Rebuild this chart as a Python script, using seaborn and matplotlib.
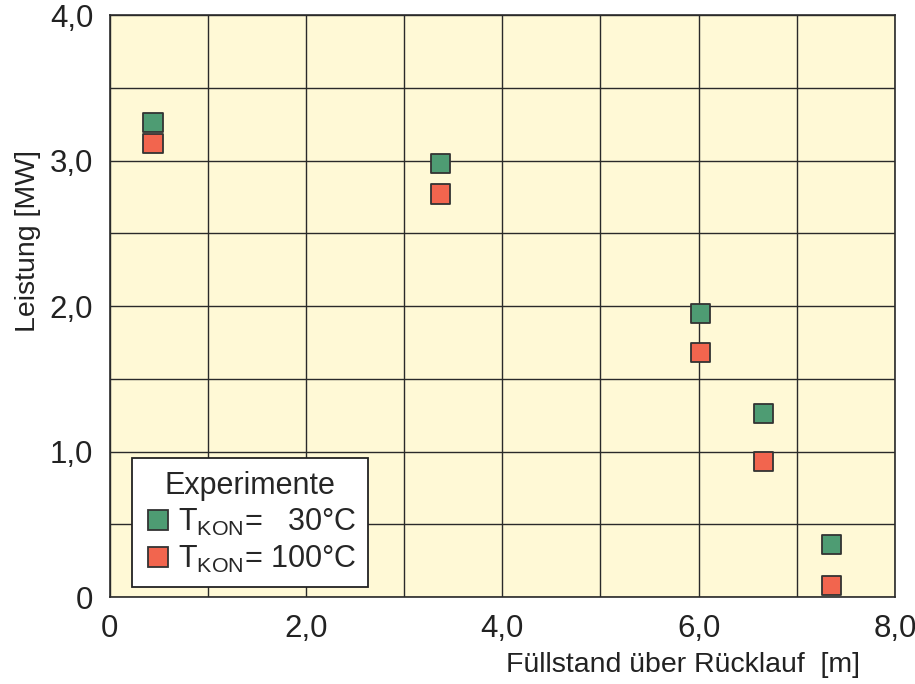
import numpy as np
import pandas as pd
import matplotlib.pyplot as plt
import seaborn as sns

fuellstand = [0.44, 3.37, 6.02, 6.66, 7.35]
leistung_30 = [3.26, 2.98, 1.95, 1.26, 0.36]
leistung_100 = [3.12, 2.77, 1.68, 0.93, 0.08]
labels = [r'T$_{\mathrm{KON}}$=   30°C', r'T$_{\mathrm{KON}}$= 100°C']

df = pd.DataFrame({
    'x': fuellstand * 2,
    'y': leistung_30 + leistung_100,
    'serie': [labels[0]] * len(fuellstand) + [labels[1]] * len(fuellstand),
})

sns.set_style('ticks')
plt.rcParams['font.family'] = ['Liberation Sans', 'DejaVu Sans']
plt.rcParams['mathtext.fontset'] = 'custom'
plt.rcParams['mathtext.rm'] = 'Liberation Sans'

fig = plt.figure(figsize=(9.15, 6.84), dpi=100)
ax = fig.add_axes([0.120, 0.127, 0.858, 0.851])
ax.set_facecolor('#FFF9D6')

g = sns.scatterplot(data=df, x='x', y='y', hue='serie', marker='s', s=190,
                    palette=['#4E9C73', '#F2654E'], edgecolor='#333333',
                    linewidth=1.3, ax=ax, zorder=3)

ax.set_xlim(0, 8)
ax.set_ylim(0, 4)
ax.set_xticks(np.arange(0, 9, 1))
ax.set_yticks(np.arange(0, 4.5, 0.5))
ax.set_xticklabels(['0', '', '2,0', '', '4,0', '', '6,0', '', '8,0'])
ax.set_yticklabels(['0', '', '1,0', '', '2,0', '', '3,0', '', '4,0'])
ax.tick_params(length=0, labelsize=22.5, colors='#222222')
ax.tick_params(axis='x', pad=12)
ax.tick_params(axis='y', pad=12)
ax.grid(True, color='#2a2a2a', linewidth=1.0)
ax.set_axisbelow(True)
for s in ax.spines.values():
    s.set_color('#2a2a2a')
    s.set_linewidth(1.2)

ax.set_xlabel('Füllstand über Rücklauf  [m]', fontsize=20.5, color='#222222')
ax.xaxis.set_label_coords(0.955, -0.095)
ax.xaxis.label.set_horizontalalignment('right')
ax.set_ylabel('Leistung [MW]', fontsize=20.5, color='#222222')
ax.yaxis.set_label_coords(-0.104, 0.612)
ax.yaxis.label.set_verticalalignment('center')

leg = ax.legend(title='Experimente', loc='lower left', bbox_to_anchor=(0.028, 0.017),
                borderaxespad=0, fontsize=22, title_fontsize=22, frameon=True,
                fancybox=False, handletextpad=0.2, borderpad=0.4, labelspacing=0.2,
                handlelength=0.9, markerscale=1.0)
leg.get_frame().set_edgecolor('#222222')
leg.get_frame().set_linewidth(1.3)
leg.get_frame().set_facecolor('white')
leg.get_frame().set_alpha(1)

fig.savefig('out.png', dpi=100)
